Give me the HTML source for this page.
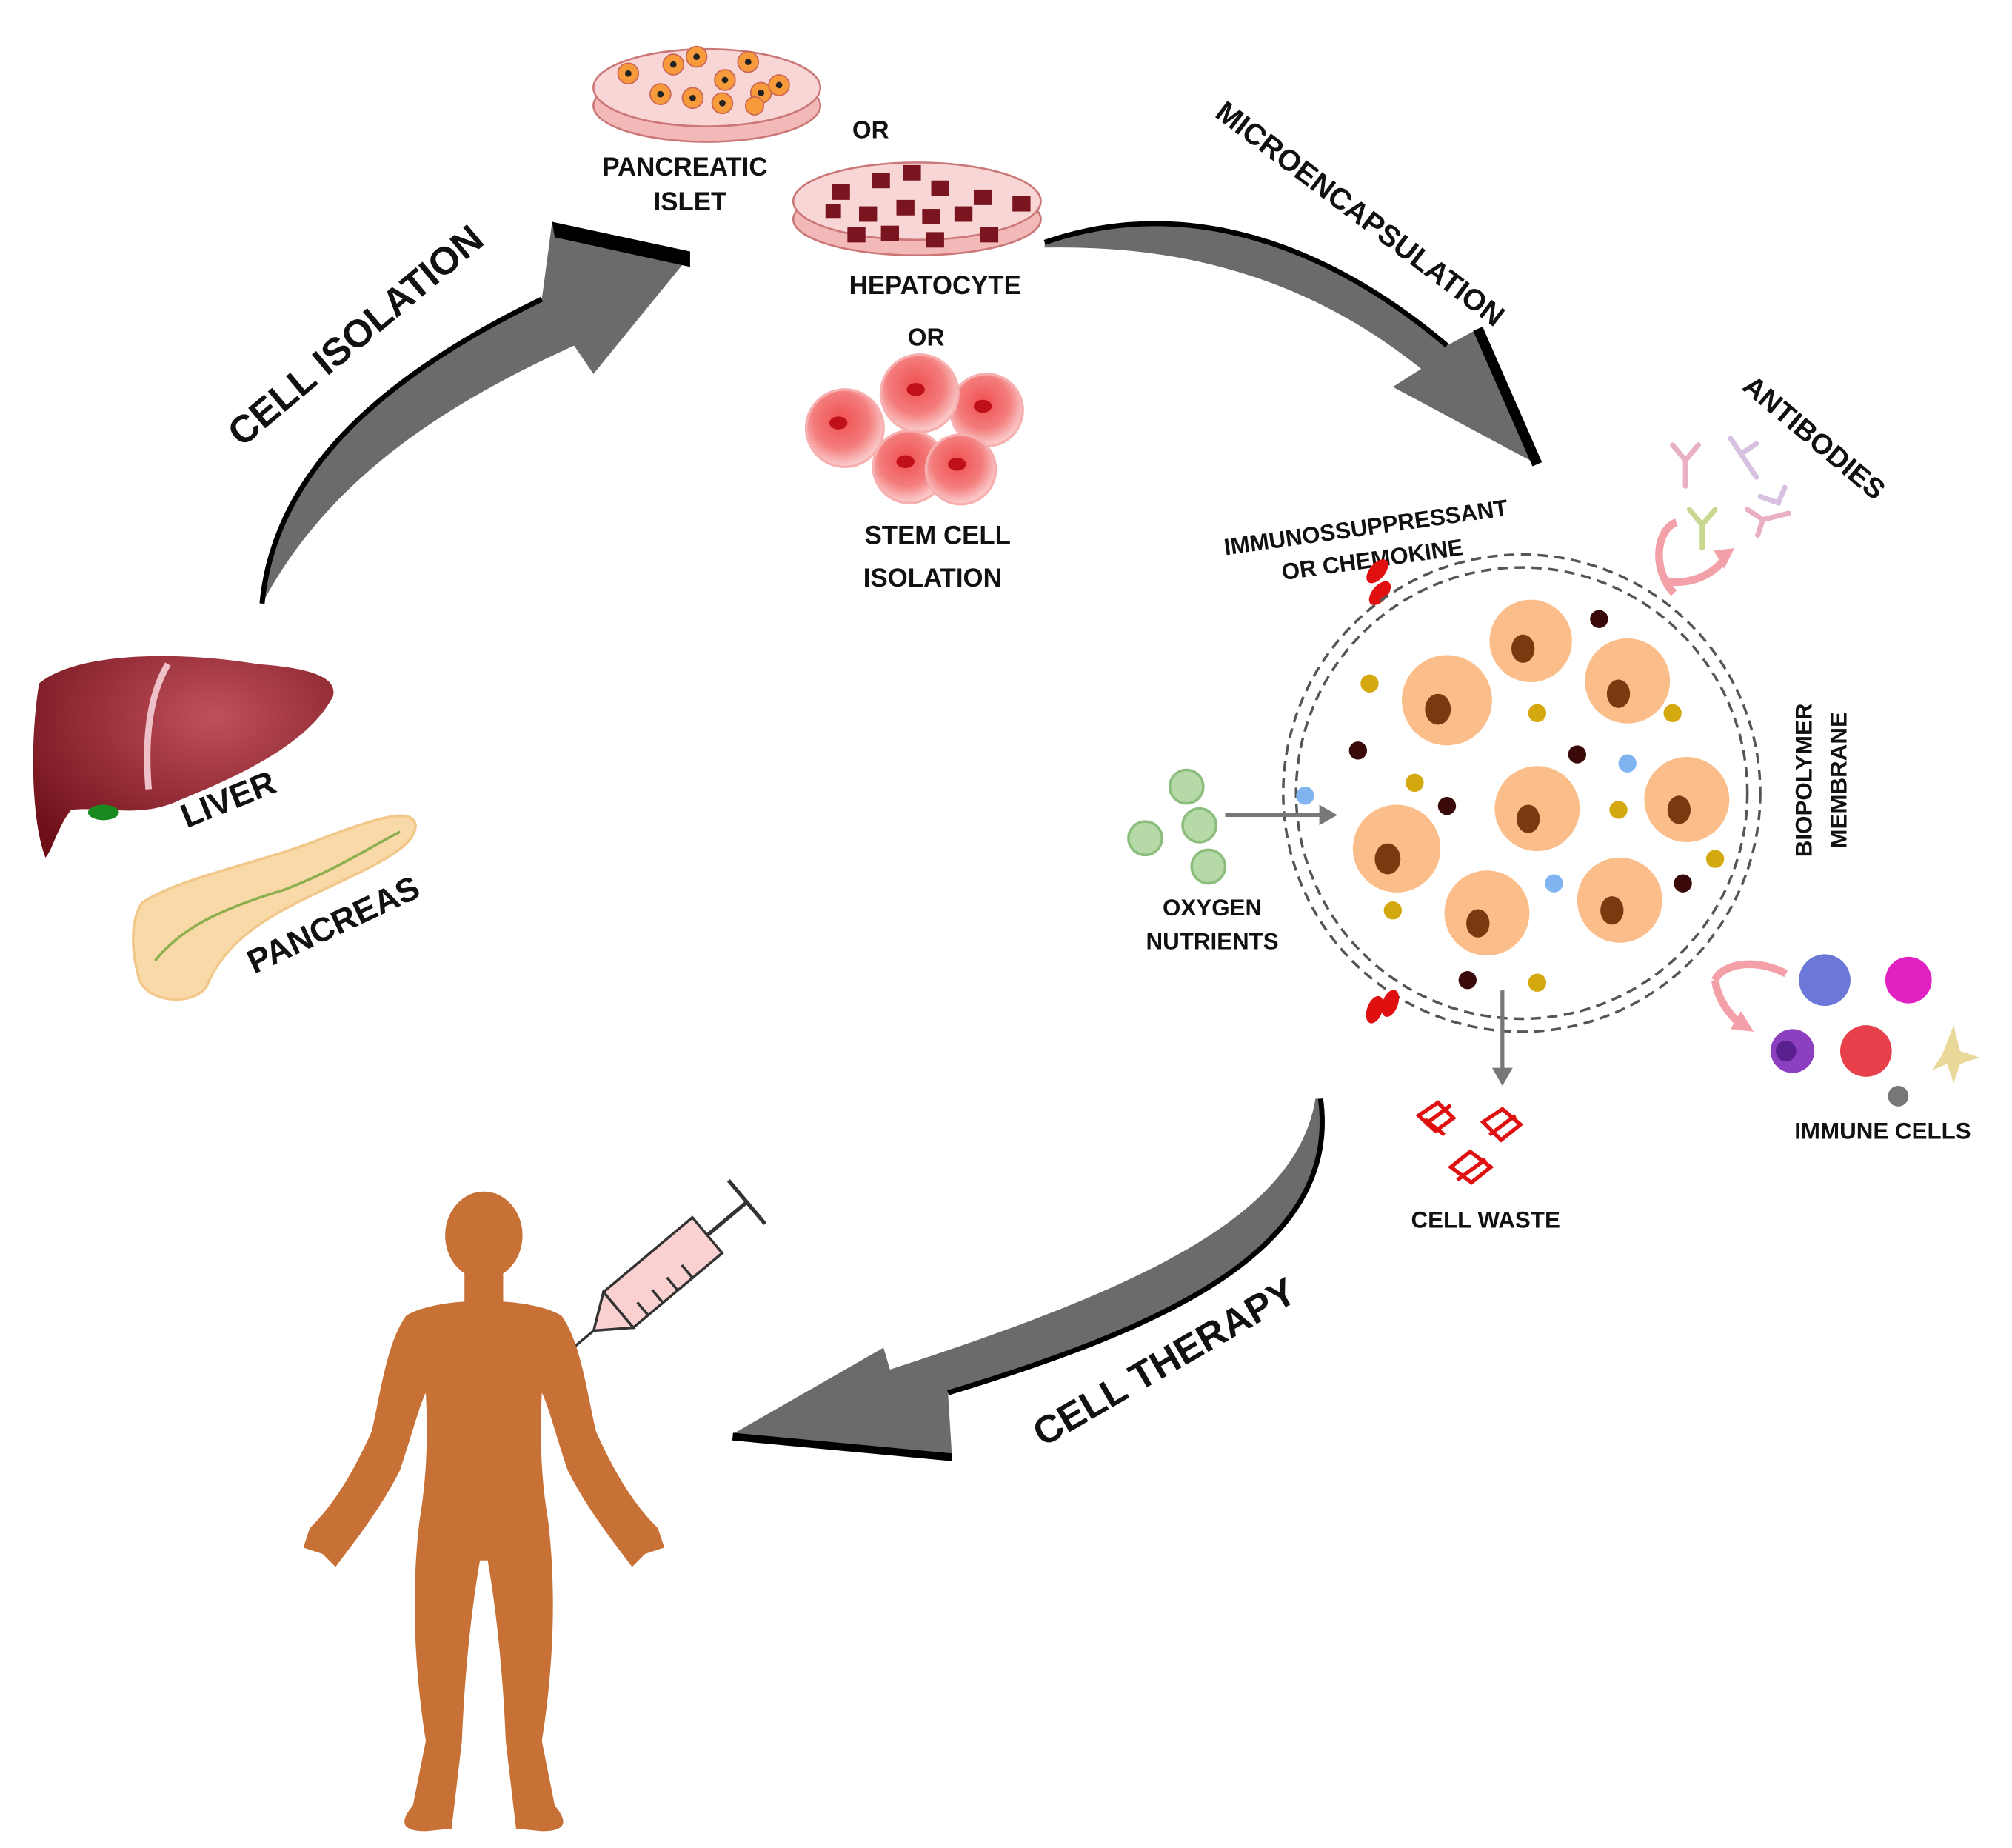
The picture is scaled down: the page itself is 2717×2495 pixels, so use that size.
<!DOCTYPE html>
<html><head><meta charset="utf-8"><style>
html,body{margin:0;padding:0;background:#fff;}
svg{display:block;}
text{font-family:"Liberation Sans",Arial,sans-serif;font-weight:bold;fill:#111;}
</style></head><body>
<svg width="2717" height="2495" viewBox="0 0 1560 1433" xmlns="http://www.w3.org/2000/svg">
<defs>
<radialGradient id="stem" cx="0.45" cy="0.4" r="0.6"><stop offset="0" stop-color="#f05050"/><stop offset="0.6" stop-color="#f47c7c"/><stop offset="1" stop-color="#fbd0d0"/></radialGradient>
<radialGradient id="liv" cx="0.6" cy="0.3" r="0.8"><stop offset="0" stop-color="#c0505a"/><stop offset="1" stop-color="#6e0f18"/></radialGradient>
</defs>
<rect width="1560" height="1433" fill="#fff"/>

<!-- Pancreatic islet dish -->
<ellipse cx="548" cy="82" rx="88" ry="28" fill="#f3b9b9" stroke="#c77" stroke-width="1.5"/>
<ellipse cx="548" cy="68" rx="88" ry="30" fill="#f9d6d6" stroke="#c77" stroke-width="1.5"/>
<g fill="#f79a3c" stroke="#c65" stroke-width="1">
<circle cx="487" cy="57" r="8"/><circle cx="522" cy="50" r="8"/><circle cx="540" cy="44" r="8"/><circle cx="580" cy="48" r="8"/><circle cx="562" cy="62" r="8"/><circle cx="512" cy="73" r="8"/><circle cx="537" cy="76" r="8"/><circle cx="560" cy="80" r="8"/><circle cx="590" cy="72" r="8"/><circle cx="604" cy="66" r="8"/><circle cx="585" cy="82" r="7"/>
</g>
<g fill="#222"><circle cx="487" cy="57" r="2.5"/><circle cx="522" cy="50" r="2.5"/><circle cx="540" cy="44" r="2.5"/><circle cx="580" cy="48" r="2.5"/><circle cx="562" cy="62" r="2.5"/><circle cx="512" cy="73" r="2.5"/><circle cx="537" cy="76" r="2.5"/><circle cx="560" cy="80" r="2.5"/><circle cx="590" cy="72" r="2.5"/><circle cx="604" cy="66" r="2.5"/></g>
<text x="675" y="107" font-size="19" text-anchor="middle">OR</text>
<text x="531" y="136" font-size="20" text-anchor="middle">PANCREATIC</text>
<text x="535" y="163" font-size="20" text-anchor="middle">ISLET</text>

<!-- Hepatocyte dish -->
<ellipse cx="711" cy="170" rx="96" ry="28" fill="#f3b9b9" stroke="#c77" stroke-width="1.5"/>
<ellipse cx="711" cy="156" rx="96" ry="30" fill="#f9d6d6" stroke="#c77" stroke-width="1.5"/>
<g fill="#7a1520">
<rect x="645" y="143" width="14" height="12"/><rect x="676" y="134" width="14" height="12"/><rect x="700" y="128" width="14" height="12"/><rect x="722" y="140" width="14" height="12"/><rect x="755" y="147" width="14" height="12"/><rect x="785" y="152" width="14" height="12"/><rect x="666" y="160" width="14" height="12"/><rect x="695" y="155" width="14" height="12"/><rect x="715" y="162" width="14" height="12"/><rect x="740" y="160" width="14" height="12"/><rect x="657" y="176" width="14" height="12"/><rect x="683" y="175" width="14" height="12"/><rect x="718" y="180" width="14" height="12"/><rect x="760" y="176" width="14" height="12"/><rect x="640" y="158" width="12" height="11"/>
</g>
<text x="725" y="228" font-size="20" text-anchor="middle">HEPATOCYTE</text>
<text x="718" y="268" font-size="19" text-anchor="middle">OR</text>

<!-- Stem cells -->
<g stroke="#f7b0b0" stroke-width="2">
<circle cx="655" cy="332" r="30" fill="url(#stem)"/><circle cx="765" cy="318" r="28" fill="url(#stem)"/><circle cx="713" cy="305" r="30" fill="url(#stem)"/><circle cx="705" cy="362" r="28" fill="url(#stem)"/><circle cx="745" cy="364" r="27" fill="url(#stem)"/>
</g>
<g fill="#c0101a"><ellipse cx="650" cy="328" rx="7" ry="5"/><ellipse cx="710" cy="302" rx="7" ry="5"/><ellipse cx="762" cy="315" rx="7" ry="5"/><ellipse cx="702" cy="358" rx="7" ry="5"/><ellipse cx="742" cy="360" rx="7" ry="5"/></g>
<text x="727" y="422" font-size="20" text-anchor="middle">STEM CELL</text>
<text x="723" y="455" font-size="20" text-anchor="middle">ISOLATION</text>

<!-- Cell isolation arrow -->
<path d="M203 468 C212 370 290 295 420 232 L428 172 L535 198 L460 290 L445 268 C330 320 250 380 203 468 Z" fill="#6b6b6b"/>
<path d="M428 172 L535 195 L535 207 L430 184 Z" fill="#000"/>
<path d="M203 468 C212 370 290 295 420 232" fill="none" stroke="#000" stroke-width="4"/>
<text transform="translate(282,268) rotate(-40)" font-size="30" text-anchor="middle">CELL ISOLATION</text>

<!-- Microencapsulation arrow -->
<path d="M810 188 C920 150 1030 190 1122 268 L1146 255 L1192 360 L1080 300 L1102 286 C1010 212 910 190 810 192 Z" fill="#6b6b6b"/>
<path d="M810 188 C920 150 1030 190 1122 268" fill="none" stroke="#000" stroke-width="4"/>
<path d="M1146 255 L1192 360" fill="none" stroke="#000" stroke-width="8"/>
<text transform="translate(1050,172) rotate(37)" font-size="23" text-anchor="middle">MICROENCAPSULATION</text>

<!-- Antibodies -->
<text transform="translate(1402,345) rotate(40)" font-size="22" text-anchor="middle">ANTIBODIES</text>
<g stroke-width="4" fill="none" stroke-linecap="round">
<path d="M1297 345 l10 12 l10 -12 M1307 357 l0 20" stroke="#e9b0c4"/>
<path d="M1342 340 l8 12 l12 -8 M1350 352 l12 18" stroke="#d8c0e0"/>
<path d="M1310 395 l10 12 l10 -12 M1320 407 l0 18" stroke="#c8d890"/>
<path d="M1355 395 l12 8 l-4 12 M1367 403 l20 -5" stroke="#e9b0c4"/>
<path d="M1365 385 l14 5 l5 -12" stroke="#d8c0e0"/>
</g>
<path d="M1298 460 C1280 440 1285 410 1300 405" fill="none" stroke="#f4a0a8" stroke-width="6"/>
<path d="M1290 450 C1310 455 1330 445 1338 432" fill="none" stroke="#f4a0a8" stroke-width="6"/>
<path d="M1345 425 l-16 2 l8 14 Z" fill="#f4a0a8"/>

<text transform="translate(1060,415) rotate(-8)" font-size="18" text-anchor="middle">IMMUNOSSUPPRESSANT</text>
<text transform="translate(1065,440) rotate(-8)" font-size="18" text-anchor="middle">OR CHEMOKINE</text>
<ellipse cx="1068" cy="443" rx="6" ry="11" transform="rotate(40 1068 443)" fill="#e01010"/>
<ellipse cx="1070" cy="460" rx="6" ry="11" transform="rotate(40 1070 460)" fill="#e01010"/>

<!-- Capsule -->
<circle cx="1180" cy="615" r="185" fill="none" stroke="#555" stroke-width="2" stroke-dasharray="8 5"/>
<circle cx="1180" cy="615" r="175" fill="none" stroke="#555" stroke-width="2" stroke-dasharray="8 5"/>
<g fill="#fbbd8a">
<circle cx="1187" cy="497" r="32"/><circle cx="1122" cy="543" r="35"/><circle cx="1262" cy="528" r="33"/><circle cx="1192" cy="627" r="33"/><circle cx="1308" cy="620" r="33"/><circle cx="1083" cy="658" r="34"/><circle cx="1153" cy="708" r="33"/><circle cx="1256" cy="698" r="33"/>
</g>
<g fill="#7a3a10">
<ellipse cx="1181" cy="503" rx="9" ry="11"/><ellipse cx="1115" cy="550" rx="10" ry="12"/><ellipse cx="1255" cy="538" rx="9" ry="11"/><ellipse cx="1185" cy="635" rx="9" ry="11"/><ellipse cx="1302" cy="628" rx="9" ry="11"/><ellipse cx="1076" cy="666" rx="10" ry="12"/><ellipse cx="1146" cy="716" rx="9" ry="11"/><ellipse cx="1250" cy="706" rx="9" ry="11"/>
</g>
<g fill="#d4a90f"><circle cx="1062" cy="530" r="7"/><circle cx="1192" cy="553" r="7"/><circle cx="1297" cy="553" r="7"/><circle cx="1097" cy="607" r="7"/><circle cx="1255" cy="628" r="7"/><circle cx="1330" cy="666" r="7"/><circle cx="1080" cy="706" r="7"/><circle cx="1192" cy="762" r="7"/></g>
<g fill="#3a0a0a"><circle cx="1240" cy="480" r="7"/><circle cx="1053" cy="582" r="7"/><circle cx="1223" cy="585" r="7"/><circle cx="1122" cy="625" r="7"/><circle cx="1305" cy="685" r="7"/><circle cx="1138" cy="760" r="7"/></g>
<g fill="#7fb4f0"><circle cx="1012" cy="617" r="7"/><circle cx="1262" cy="592" r="7"/><circle cx="1205" cy="685" r="7"/></g>
<text transform="translate(1405,605) rotate(-90)" font-size="18" text-anchor="middle">BIOPOLYMER</text>
<text transform="translate(1432,605) rotate(-90)" font-size="18" text-anchor="middle">MEMBRANE</text>

<!-- Oxygen nutrients -->
<g fill="#b6d9a8" stroke="#8bbd7c" stroke-width="2">
<circle cx="920" cy="610" r="13"/><circle cx="930" cy="640" r="13"/><circle cx="888" cy="650" r="13"/><circle cx="937" cy="672" r="13"/>
</g>
<line x1="950" y1="632" x2="1025" y2="632" stroke="#777" stroke-width="3"/>
<path d="M1037 632 l-14 -8 l0 16 Z" fill="#777"/>
<text x="940" y="710" font-size="18" text-anchor="middle">OXYGEN</text>
<text x="940" y="736" font-size="18" text-anchor="middle">NUTRIENTS</text>
<ellipse cx="1066" cy="783" rx="6" ry="11" transform="rotate(20 1066 783)" fill="#e01010"/>
<ellipse cx="1078" cy="778" rx="6" ry="11" transform="rotate(20 1078 778)" fill="#e01010"/>

<!-- waste arrow -->
<line x1="1165" y1="768" x2="1165" y2="830" stroke="#777" stroke-width="3"/>
<path d="M1165 842 l-8 -14 l16 0 Z" fill="#777"/>
<g fill="none" stroke="#e01010" stroke-width="3">
<path d="M1100 865 l15 -10 l12 12 l-14 10 Z M1105 872 l20 -15 M1120 880 l-15 -12"/>
<path d="M1150 870 l15 -10 l14 12 l-15 12 Z M1155 880 l20 -15"/>
<path d="M1125 905 l15 -12 l16 12 l-15 12 Z M1130 915 l22 -16"/>
</g>
<text x="1152" y="952" font-size="18" text-anchor="middle">CELL WASTE</text>

<!-- Immune cells -->
<path d="M1330 760 C1335 748 1360 742 1385 755" fill="none" stroke="#f4a0a8" stroke-width="6"/>
<path d="M1330 760 C1332 775 1340 785 1350 795" fill="none" stroke="#f4a0a8" stroke-width="6"/>
<path d="M1360 800 l-18 -2 l8 -14 Z" fill="#f4a0a8"/>
<circle cx="1415" cy="760" r="20" fill="#6b78d8"/>
<circle cx="1480" cy="760" r="18" fill="#e020c0"/>
<circle cx="1390" cy="815" r="17" fill="#8c40c0"/>
<circle cx="1385" cy="815" r="8" fill="#5a2090"/>
<circle cx="1447" cy="815" r="20" fill="#e8404a"/>
<path d="M1515 795 l5 20 l15 5 l-15 5 l-5 15 l-5 -15 l-12 5 l8 -12 Z" fill="#e8d89a"/>
<circle cx="1472" cy="850" r="8" fill="#777"/>
<text x="1460" y="883" font-size="18" text-anchor="middle">IMMUNE CELLS</text>

<!-- Liver -->
<path d="M30 530 C60 505 140 505 200 515 C240 518 262 525 258 540 C240 575 190 600 140 620 C110 635 80 625 55 628 C45 640 40 660 35 665 C25 640 22 580 30 530 Z" fill="url(#liv)"/>
<path d="M130 515 C115 540 112 575 115 612" fill="none" stroke="#eec0c8" stroke-width="5"/>
<ellipse cx="80" cy="630" rx="12" ry="6" fill="#1a8a20"/>
<text transform="translate(180,628) rotate(-22)" font-size="26" text-anchor="middle">LIVER</text>
<!-- Pancreas -->
<path d="M110 700 C140 680 200 670 250 650 C290 635 320 625 322 640 C322 660 280 675 230 700 C190 720 170 740 160 765 C150 780 115 778 108 760 C102 740 100 715 110 700 Z" fill="#f9d9a8" stroke="#f2c88a" stroke-width="2"/>
<path d="M120 745 C140 720 170 705 220 690 C260 675 290 655 310 645" fill="none" stroke="#8cae4c" stroke-width="2"/>
<text transform="translate(262,725) rotate(-25)" font-size="26" text-anchor="middle">PANCREAS</text>

<!-- Cell therapy arrow -->
<path d="M1024 852 C1040 970 900 1030 735 1080 L738 1128 L568 1112 L685 1045 L690 1062 C880 1000 1005 945 1020 852 Z" fill="#6b6b6b"/>
<path d="M1024 852 C1040 970 900 1030 735 1080" fill="none" stroke="#000" stroke-width="4"/>
<path d="M568 1114 L738 1130" fill="none" stroke="#000" stroke-width="6"/>
<text transform="translate(908,1065) rotate(-30)" font-size="30" text-anchor="middle">CELL THERAPY</text>

<!-- Syringe -->
<g transform="rotate(-40 510 990)">
<rect x="470" y="972" width="90" height="36" fill="#fbd0d0" stroke="#333" stroke-width="2"/>
<line x1="560" y1="990" x2="600" y2="990" stroke="#333" stroke-width="3"/>
<line x1="600" y1="968" x2="600" y2="1012" stroke="#333" stroke-width="3"/>
<path d="M470 972 L445 990 L470 1008 Z" fill="#fbd0d0" stroke="#333" stroke-width="2"/>
<line x1="445" y1="990" x2="415" y2="990" stroke="#333" stroke-width="2"/>
<g stroke="#333" stroke-width="2"><line x1="485" y1="1008" x2="485" y2="995"/><line x1="500" y1="1008" x2="500" y2="995"/><line x1="515" y1="1008" x2="515" y2="995"/><line x1="530" y1="1008" x2="530" y2="995"/></g>
</g>

<!-- Human -->
<g fill="#c87137">
<ellipse cx="375" cy="958" rx="30" ry="34"/>
<rect x="360" y="985" width="30" height="28"/>
<path d="M315 1020 C340 1005 410 1005 435 1020 C450 1040 455 1080 462 1110 C480 1150 495 1170 510 1185 L515 1200 L500 1205 L490 1215 C475 1195 455 1170 440 1140 C430 1110 425 1090 420 1080 C418 1120 420 1150 425 1180 C432 1240 428 1300 420 1350 L430 1400 C440 1412 440 1420 420 1420 L400 1418 L392 1350 C390 1300 385 1250 378 1210 L372 1210 C365 1250 360 1300 358 1350 L350 1418 L330 1420 C310 1420 310 1412 320 1400 L330 1350 C322 1300 318 1240 325 1180 C330 1150 332 1120 330 1080 C325 1090 320 1110 310 1140 C295 1170 275 1195 260 1215 L250 1205 L235 1200 L240 1185 C255 1170 270 1150 288 1110 C295 1080 300 1040 315 1020 Z"/>
</g>
</svg>
</body></html>
